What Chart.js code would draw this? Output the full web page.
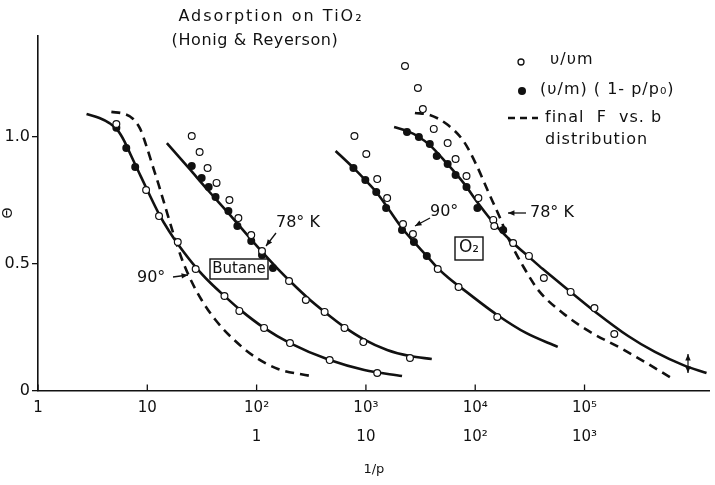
<!DOCTYPE html>
<html>
<head>
<meta charset="utf-8">
<script src="https://cdn.jsdelivr.net/npm/chart.js@4.4.0/dist/chart.umd.min.js"></script>
<style>
  html, body { margin: 0; padding: 0; background: #fff; }
  #wrap { width: 715px; height: 485px; }
</style>
</head>
<body>
<div id="wrap"><canvas id="adsChart" width="715" height="485"></canvas></div>
<script>
// axis ticks
const xTickValues = [1, 10, 100, 1000, 10000, 100000];
const xTickLabels = ['1', '10', '10²', '10³', '10⁴', '10⁵'];
const xTickLabelsO2 = ['', '', '1', '10', '10²', '10³'];
const yTickValues = [0, 0.5, 1.0];
const yTickLabels = ['0', '0.5', '1.0'];

// Butane, 90 deg
const butane90CurveX = [2.78, 3.65, 4.50, 5.32, 6.16, 7.13, 8.43, 10.4, 12.8, 15.8, 19.0, 27.7, 37.9, 50.8, 69.5, 117, 202, 466, 967, 2140];
const butane90CurveY = [1.091, 1.075, 1.055, 1.028, 0.984, 0.925, 0.858, 0.775, 0.696, 0.629, 0.578, 0.487, 0.424, 0.373, 0.321, 0.247, 0.187, 0.120, 0.081, 0.057];
const butane90OpenX = [5.21, 9.75, 12.8, 19.0, 27.7, 50.8, 69.5, 117, 202, 466, 1269];
const butane90OpenY = [1.051, 0.791, 0.688, 0.586, 0.479, 0.373, 0.314, 0.247, 0.187, 0.120, 0.069];
const butane90FilledX = [5.21, 6.42, 7.75];
const butane90FilledY = [1.036, 0.957, 0.882];
const butaneDashX = [4.69, 6.16, 7.43, 8.61, 9.75, 11.06, 12.8, 14.8, 17.5, 20.7, 24.5, 31.4, 42.1, 63.9, 97.1, 157, 313];
const butaneDashY = [1.099, 1.091, 1.071, 1.032, 0.968, 0.893, 0.807, 0.716, 0.613, 0.519, 0.444, 0.357, 0.278, 0.195, 0.132, 0.085, 0.057];

// Butane, 78 K
const butane78CurveX = [15.1, 23.9, 36.4, 55.2, 83.9, 115, 157, 215, 294, 419, 637, 947, 1564, 2530, 4005];
const butane78CurveY = [0.976, 0.878, 0.787, 0.700, 0.609, 0.542, 0.479, 0.420, 0.365, 0.310, 0.250, 0.203, 0.160, 0.136, 0.124];
const butane78OpenX = [25.5, 30.1, 35.6, 43.0, 56.4, 68.1, 89.3, 112, 198, 282, 419, 637, 947, 2530];
const butane78OpenY = [1.004, 0.941, 0.878, 0.819, 0.751, 0.680, 0.613, 0.550, 0.432, 0.357, 0.310, 0.247, 0.191, 0.128];
const butane78FilledX = [25.5, 31.4, 36.4, 42.1, 55.2, 66.7, 89.3, 112, 141];
const butane78FilledY = [0.886, 0.838, 0.803, 0.763, 0.708, 0.649, 0.590, 0.535, 0.483];

// O2, 90 deg
const o290CurveX = [528, 769, 988, 1243, 1564, 2139, 2749, 3607, 4540, 5713, 8321, 15910, 29150, 56880];
const o290CurveY = [0.945, 0.878, 0.830, 0.783, 0.724, 0.641, 0.586, 0.531, 0.483, 0.444, 0.389, 0.298, 0.227, 0.172];
const o290OpenX = [785, 1008, 1269, 1564, 2185, 2693, 4540, 7039, 15910];
const o290OpenY = [1.004, 0.933, 0.834, 0.759, 0.657, 0.617, 0.479, 0.408, 0.290];
const o290FilledX = [769, 988, 1243, 1531, 2139, 2749, 3607];
const o290FilledY = [0.878, 0.830, 0.783, 0.720, 0.633, 0.586, 0.531];

// O2, 78 K
const o278CurveX = [1810, 2375, 3051, 3841, 5479, 7815, 10920, 15570, 22220, 31020, 41570, 74640, 125800, 250700, 441000, 791300, 1307000];
const o278CurveY = [1.039, 1.024, 1.000, 0.968, 0.897, 0.819, 0.732, 0.649, 0.582, 0.527, 0.479, 0.389, 0.310, 0.215, 0.152, 0.101, 0.069];
const o278OpenX = [2278, 2989, 3318, 4176, 5594, 6612, 8321, 10690, 14630, 14940, 22220, 31020, 42460, 74640, 123200, 187200];
const o278OpenY = [1.280, 1.193, 1.110, 1.032, 0.976, 0.913, 0.846, 0.759, 0.673, 0.649, 0.582, 0.531, 0.444, 0.389, 0.325, 0.223];
const o278FilledX = [2375, 3051, 3841, 4446, 5594, 6612, 8321, 10470, 18030];
const o278FilledY = [1.020, 1.000, 0.972, 0.925, 0.893, 0.850, 0.803, 0.720, 0.633];
const o2DashX = [2807, 3841, 5479, 7815, 10250, 13180, 16580, 20430, 27370, 38240, 63150, 108700, 221200, 380900, 669600];
const o2DashY = [1.095, 1.087, 1.051, 0.984, 0.890, 0.783, 0.688, 0.594, 0.491, 0.393, 0.306, 0.235, 0.164, 0.105, 0.041];

const ink = '#111';
const font = '"DejaVu Sans", sans-serif';

function pts(xs, ys) {
    return xs.map((x, i) => ({ x: x, y: ys[i] }));
}

function openSet(xs, ys) {
    return {
        data: pts(xs, ys), showLine: false,
        pointRadius: 3.4, pointBackgroundColor: '#fff', pointBorderColor: ink, pointBorderWidth: 1.2
    };
}

function filledSet(xs, ys) {
    return {
        data: pts(xs, ys), showLine: false,
        pointRadius: 4, pointBackgroundColor: ink, pointBorderColor: ink, pointBorderWidth: 0
    };
}

function curveSet(xs, ys, dashed) {
    return {
        data: pts(xs, ys), showLine: true, pointRadius: 0,
        borderColor: ink, borderWidth: 2.6, borderDash: dashed ? [9, 6] : [],
        cubicInterpolationMode: 'monotone', fill: false
    };
}

function arrow(ctx, x1, y1, x2, y2) {
    const a = Math.atan2(y2 - y1, x2 - x1);
    ctx.beginPath();
    ctx.moveTo(x1, y1);
    ctx.lineTo(x2, y2);
    ctx.stroke();
    ctx.beginPath();
    ctx.moveTo(x2, y2);
    ctx.lineTo(x2 - 7 * Math.cos(a - 0.4), y2 - 7 * Math.sin(a - 0.4));
    ctx.lineTo(x2 - 7 * Math.cos(a + 0.4), y2 - 7 * Math.sin(a + 0.4));
    ctx.closePath();
    ctx.fill();
}

// title, legend, labels and inward x ticks
const notes = {
    id: 'notes',
    afterDraw(chart) {
        const ctx = chart.ctx;
        const xs = chart.scales.x;
        const area = chart.chartArea;
        ctx.save();
        ctx.fillStyle = ink;
        ctx.strokeStyle = ink;
        ctx.lineWidth = 1.3;

        xs.ticks.forEach(t => {
            const px = xs.getPixelForValue(t.value);
            ctx.beginPath();
            ctx.moveTo(px, area.bottom);
            ctx.lineTo(px, area.bottom - 6);
            ctx.stroke();
        });

        ctx.textBaseline = 'middle';
        ctx.textAlign = 'center';
        ctx.font = '16px ' + font;
        ctx.letterSpacing = '2px';
        ctx.fillText('Adsorption on TiO₂', 271, 17);
        ctx.letterSpacing = '0.6px';
        ctx.fillText('(Honig & Reyerson)', 255, 41);

        // legend
        ctx.textAlign = 'left';
        ctx.letterSpacing = '1px';
        ctx.beginPath();
        ctx.arc(521, 62, 3, 0, Math.PI * 2);
        ctx.stroke();
        ctx.fillText('υ/υm', 550, 60);
        ctx.beginPath();
        ctx.arc(522, 91, 4, 0, Math.PI * 2);
        ctx.fill();
        ctx.fillText('(υ/m) ( 1- p/p₀)', 540, 90);
        ctx.save();
        ctx.lineWidth = 2.4;
        ctx.setLineDash([7, 5]);
        ctx.beginPath();
        ctx.moveTo(508, 118);
        ctx.lineTo(538, 118);
        ctx.stroke();
        ctx.restore();
        ctx.fillText('final  F  vs. b', 545, 118);
        ctx.fillText('distribution', 545, 140);

        // curve labels
        ctx.letterSpacing = '0px';
        ctx.fillText('90°', 137, 278);
        arrow(ctx, 173, 277, 188, 275);
        ctx.fillText('78° K', 276, 223);
        arrow(ctx, 276, 233, 266, 246);
        ctx.fillText('90°', 430, 212);
        arrow(ctx, 430, 218, 415, 226);
        ctx.fillText('78° K', 530, 213);
        arrow(ctx, 526, 213, 508, 213);

        ctx.lineWidth = 1.4;
        ctx.strokeRect(210, 259, 58, 20);
        ctx.textAlign = 'center';
        ctx.font = '15px ' + font;
        ctx.fillText('Butane', 239, 269);
        ctx.strokeRect(455, 237, 28, 23);
        ctx.font = '17px ' + font;
        ctx.fillText('O₂', 469, 248);

        // error bar arrow
        ctx.lineWidth = 1.2;
        arrow(ctx, 688, 364, 688, 354);
        arrow(ctx, 688, 364, 688, 373);
        ctx.restore();
    }
};

new Chart(document.getElementById('adsChart'), {
    type: 'scatter',
    data: {
        datasets: [
            openSet(butane90OpenX, butane90OpenY),
            openSet(butane78OpenX, butane78OpenY),
            openSet(o290OpenX, o290OpenY),
            openSet(o278OpenX, o278OpenY),
            filledSet(butane90FilledX, butane90FilledY),
            filledSet(butane78FilledX, butane78FilledY),
            filledSet(o290FilledX, o290FilledY),
            filledSet(o278FilledX, o278FilledY),
            curveSet(butane90CurveX, butane90CurveY, false),
            curveSet(butane78CurveX, butane78CurveY, false),
            curveSet(o290CurveX, o290CurveY, false),
            curveSet(o278CurveX, o278CurveY, false),
            curveSet(butaneDashX, butaneDashY, true),
            curveSet(o2DashX, o2DashY, true)
        ]
    },
    options: {
        responsive: false,
        animation: false,
        devicePixelRatio: 1,
        layout: { padding: { top: 35.6, right: 0, bottom: 0, left: 0 } },
        plugins: {
            legend: { display: false },
            tooltip: { enabled: false }
        },
        scales: {
            x: {
                type: 'logarithmic',
                min: 1,
                max: 1.4e6,
                afterBuildTicks: scale => { scale.ticks = xTickValues.map(v => ({ value: v })); },
                afterFit: scale => { scale.height = 94.5; },
                grid: { drawOnChartArea: false, drawTicks: false },
                border: { color: ink, width: 1.6 },
                ticks: {
                    autoSkip: false,
                    maxRotation: 0,
                    padding: 3,
                    color: ink,
                    font: { family: font, size: 15, lineHeight: 1.93 },
                    callback: (value, index) => [xTickLabels[index], xTickLabelsO2[index]]
                },
                title: {
                    display: true,
                    text: '1/p',
                    color: ink,
                    font: { family: font, size: 13 },
                    padding: { top: 8, bottom: 8 }
                }
            },
            y: {
                type: 'linear',
                min: 0,
                max: 1.4,
                afterBuildTicks: scale => { scale.ticks = yTickValues.map(v => ({ value: v })); },
                afterFit: scale => { scale.width = 38; },
                grid: { drawOnChartArea: false, drawTicks: true, tickLength: 6, color: ink, lineWidth: 1.3 },
                border: { color: ink, width: 1.6 },
                ticks: {
                    padding: 2,
                    color: ink,
                    font: { family: font, size: 16 },
                    callback: (value, index) => yTickLabels[index]
                },
                title: {
                    display: true,
                    text: 'Θ',
                    color: ink,
                    font: { family: font, size: 14 },
                    padding: 0
                }
            }
        }
    },
    plugins: [notes]
});
</script>
</body>
</html>
